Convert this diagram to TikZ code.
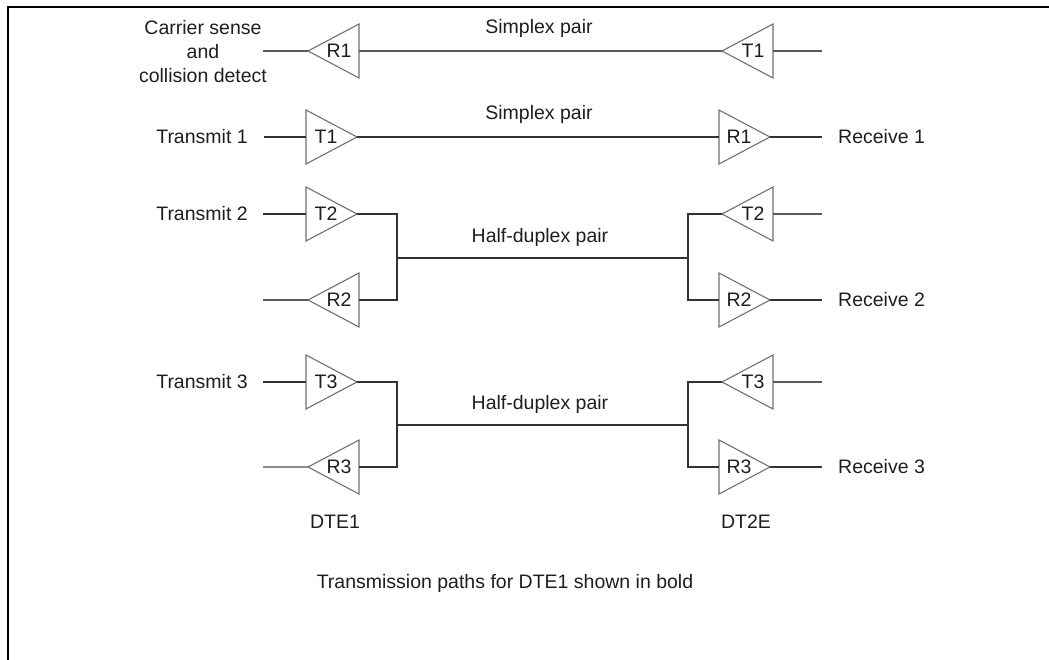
\documentclass[tikz,border=0pt]{standalone}
\usepackage{fontspec}
\setmainfont{Liberation Sans}
\definecolor{inkc}{HTML}{1E1E1E}
\definecolor{boldc}{HTML}{333333}
\definecolor{thinc}{HTML}{5A5A5A}
\definecolor{ampc}{HTML}{707070}
\tikzset{
  lab/.style={font=\fontsize{19.5}{24}\selectfont, text=inkc, inner sep=0pt},
  ampline/.style={draw=ampc, line width=1.1pt, line join=miter},
  boldline/.style={draw=boldc, line width=2.3pt},
  thinline/.style={draw=thinc, line width=1.1pt},
  frameline/.style={draw=black, line width=1.6pt},
  amp/.pic={
    \draw[ampline] (0,-27) -- (51,0) -- (0,27) -- cycle;
    \coordinate (-base) at (0,0);
    \coordinate (-tip) at (51,0);
    \node[lab] (-t) at (20,0) {#1};
  }
}
\begin{document}
\begin{tikzpicture}[x=1pt,y=-1pt]
\useasboundingbox (0,0) rectangle (1049,660);
% frame
\coordinate (fb) at (8,660);
\coordinate (fc) at (8,7);
\coordinate (fr) at (1049,7);
\draw[frameline] (fb) -- (fc) -- (fr);

% amplifiers, DTE1 side
\pic[xscale=-1] (R1L) at (359,51) {amp=R1};
\pic (T1L) at (306,137) {amp=T1};
\pic (T2L) at (306,214) {amp=T2};
\pic[xscale=-1] (R2L) at (359,300) {amp=R2};
\pic (T3L) at (306,382) {amp=T3};
\pic[xscale=-1] (R3L) at (359,467) {amp=R3};
% amplifiers, DT2E side
\pic[xscale=-1] (T1R) at (773,51) {amp=T1};
\pic (R1R) at (719,137) {amp=R1};
\pic[xscale=-1] (T2R) at (773,214) {amp=T2};
\pic (R2R) at (719,300) {amp=R2};
\pic[xscale=-1] (T3R) at (773,382) {amp=T3};
\pic (R3R) at (719,467) {amp=R3};

% free ends
\coordinate (e1L) at (263,51);
\coordinate (e1R) at (822,51);
\coordinate (e2L) at (264,137);
\coordinate (e2R) at (822,137);
\coordinate (e3L) at (263,214);
\coordinate (e3R) at (822,214);
\coordinate (e4L) at (263,300);
\coordinate (e4R) at (822,300);
\coordinate (e5L) at (263,382);
\coordinate (e5R) at (822,382);
\coordinate (e6L) at (263,467);
\coordinate (e6R) at (822,467);
\coordinate (jL1) at (397,258);
\coordinate (jR1) at (688,258);
\coordinate (jL2) at (397,425);
\coordinate (jR2) at (688,425);

% row 1: simplex pair (thin)
\draw[thinline] (e1L) -- (R1L-tip);
\draw[thinline] (R1L-base) -- (T1R-tip);
\draw[thinline] (T1R-base) -- (e1R);
% row 2: simplex pair (bold)
\draw[boldline] (e2L) -- (T1L-base);
\draw[boldline] (T1L-tip) -- (R1R-base);
\draw[boldline] (R1R-tip) -- (e2R);
% half-duplex pair 1
\draw[boldline] (e3L) -- (T2L-base);
\draw[boldline] (T2L-tip) -| (jL1) |- (R2L-base);
\draw[boldline] (jL1) -- (jR1);
\draw[boldline] (T2R-tip) -| (jR1) |- (R2R-base);
\draw[boldline] (R2R-tip) -- (e4R);
\draw[thinline] (T2R-base) -- (e3R);
\draw[thinline] (R2L-tip) -- (e4L);
% half-duplex pair 2
\draw[boldline] (e5L) -- (T3L-base);
\draw[boldline] (T3L-tip) -| (jL2) |- (R3L-base);
\draw[boldline] (jL2) -- (jR2);
\draw[boldline] (T3R-tip) -| (jR2) |- (R3R-base);
\draw[boldline] (R3R-tip) -- (e6R);
\draw[thinline] (T3R-base) -- (e5R);
\draw[thinline, draw=ampc!80] (R3L-tip) -- (e6L);

% labels
\node[lab, align=center] (cs) at (203,52) {Carrier sense\\and\\collision detect};
\node[lab] (tx1) at (202,137) {Transmit 1};
\node[lab] (tx2) at (202,214) {Transmit 2};
\node[lab] (tx3) at (202,382) {Transmit 3};
\node[lab, anchor=west] (rx1) at (838,137) {Receive 1};
\node[lab, anchor=west] (rx2) at (838,300) {Receive 2};
\node[lab, anchor=west] (rx3) at (838,467) {Receive 3};
\node[lab] (sp1) at (539,28) {Simplex pair};
\node[lab] (sp2) at (539,114) {Simplex pair};
\node[lab] (hd1) at (540,237) {Half-duplex pair};
\node[lab] (hd2) at (540,404) {Half-duplex pair};
\node[lab] (dte1) at (335,522) {DTE1};
\node[lab] (dte2) at (746,522) {DT2E};
\node[lab] (note) at (505,583) {Transmission paths for DTE1 shown in bold};
\end{tikzpicture}
\end{document}
